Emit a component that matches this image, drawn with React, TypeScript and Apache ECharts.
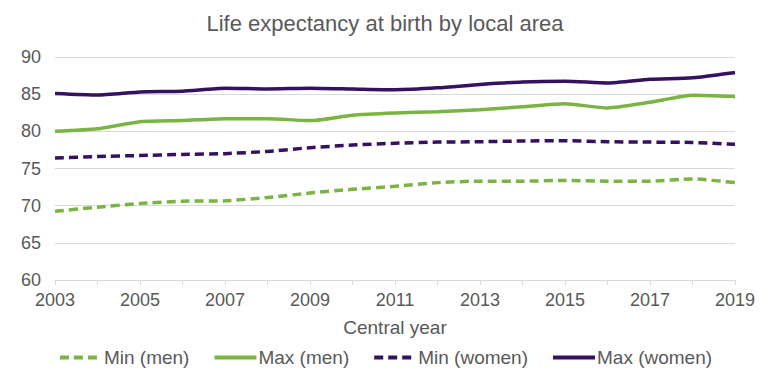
import React, { useEffect, useRef } from "react";
import * as echarts from "echarts";

const years = ["2003","2004","2005","2006","2007","2008","2009","2010","2011","2012","2013","2014","2015","2016","2017","2018","2019"];
const minMen = [69.25, 69.8, 70.3, 70.6, 70.65, 71.1, 71.7, 72.2, 72.6, 73.1, 73.3, 73.3, 73.4, 73.3, 73.3, 73.6, 73.1];
const maxMen = [80.0, 80.35, 81.3, 81.45, 81.7, 81.7, 81.45, 82.15, 82.45, 82.65, 82.9, 83.3, 83.7, 83.15, 83.9, 84.85, 84.7];
const minWomen = [76.4, 76.6, 76.75, 76.9, 77.0, 77.3, 77.8, 78.15, 78.4, 78.55, 78.6, 78.7, 78.75, 78.6, 78.55, 78.5, 78.25];
const maxWomen = [85.1, 84.9, 85.3, 85.4, 85.8, 85.7, 85.8, 85.7, 85.6, 85.85, 86.3, 86.65, 86.75, 86.5, 87.0, 87.2, 87.9];

const GREEN = "#7ab443";
const PURPLE = "#35115f";
const TEXT = "#595959";
const FONT = "'Liberation Sans', Arial, sans-serif";

export default function App() {
  const ref = useRef<HTMLDivElement>(null);
  useEffect(() => {
    if (!ref.current) return;
    const chart = echarts.init(ref.current, undefined, { renderer: "svg" });
    const mk = (name: string, data: number[], color: string, dashed: boolean) => ({
      name,
      type: "line",
      data,
      symbol: "none",
      smooth: 0.2,
      lineStyle: { color, width: 3.5, type: dashed ? [9, 5] : "solid" },
      itemStyle: { color },
    });
    chart.setOption({
      animation: false,
      textStyle: { fontFamily: FONT },
      title: {
        text: "Life expectancy at birth by local area",
        left: "center",
        top: 7,
        textStyle: { fontSize: 22, fontWeight: "normal", color: TEXT, fontFamily: FONT },
      },
      grid: { left: 55, right: 35, top: 57, bottom: 100 },
      xAxis: {
        type: "category",
        data: years,
        boundaryGap: false,
        name: "Central year",
        nameLocation: "middle",
        nameGap: 38,
        nameTextStyle: { fontSize: 19, color: TEXT, fontFamily: FONT },
        axisLine: { lineStyle: { color: "#d9d9d9", width: 1 } },
        axisTick: { show: true, interval: 0, length: 5, lineStyle: { color: "#d9d9d9" } },
        axisLabel: { interval: 1, fontSize: 18, color: TEXT, margin: 11, fontFamily: FONT },
        splitLine: { show: false },
      },
      yAxis: {
        type: "value",
        min: 60,
        max: 90,
        interval: 5,
        axisLine: { show: false },
        axisTick: { show: false },
        axisLabel: { fontSize: 18, color: TEXT, margin: 14, fontFamily: FONT },
        splitLine: { lineStyle: { color: "#d9d9d9", width: 1 } },
      },
      legend: {
        top: 343,
        left: "center",
        itemWidth: 42,
        itemHeight: 4,
        itemGap: 23,
        itemStyle: { opacity: 0 },
        lineStyle: { width: 4 },
        textStyle: { fontSize: 19, color: TEXT, fontFamily: FONT, padding: [0, 0, 0, -3] },
        data: ["Min (men)", "Max (men)", "Min (women)", "Max (women)"],
      },
      series: [
        mk("Min (men)", minMen, GREEN, true),
        mk("Max (men)", maxMen, GREEN, false),
        mk("Min (women)", minWomen, PURPLE, true),
        mk("Max (women)", maxWomen, PURPLE, false),
      ],
    });
    return () => chart.dispose();
  }, []);
  return <div ref={ref} style={{ width: 770, height: 380, margin: -8 }} />;
}
